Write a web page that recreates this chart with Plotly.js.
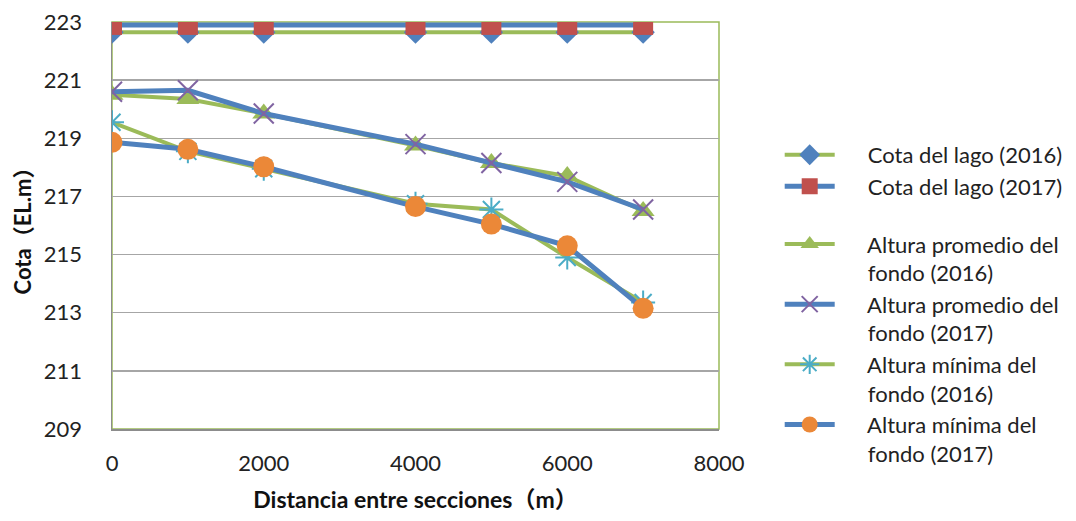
<!DOCTYPE html>
<html>
<head>
<meta charset="utf-8">
<script src="https://cdn.plot.ly/plotly-3.0.1.min.js"></script>
<style>html,body{margin:0;padding:0;background:#fff;}#chart{width:1076px;height:521px;}</style>
</head>
<body>
<div id="chart"></div>
<script>
var distancia = [0, 1000, 2000, 4000, 5000, 6000, 7000];
var cotaLago2016 = [222.65, 222.65, 222.65, 222.65, 222.65, 222.65, 222.65];
var cotaLago2017 = [222.9, 222.9, 222.9, 222.9, 222.9, 222.9, 222.9];
var promedio2016 = [220.5, 220.35, 219.85, 218.75, 218.15, 217.7, 216.5];
var promedio2017 = [220.6, 220.65, 219.85, 218.8, 218.15, 217.5, 216.55];
var minima2016 = [219.55, 218.55, 217.95, 216.75, 216.55, 214.9, 213.35];
var minima2017 = [218.86, 218.62, 218.02, 216.65, 216.05, 215.3, 213.15];
var nombres = [
  "Cota del lago (2016)",
  "Cota del lago (2017)",
  "Altura promedio del<br>fondo (2016)",
  "Altura promedio del<br>fondo (2017)",
  "Altura mínima del<br>fondo (2016)",
  "Altura mínima del<br>fondo (2017)"
];
var yTicks = [209, 211, 213, 215, 217, 219, 221, 223];
var xTicks = [0, 2000, 4000, 6000, 8000];

var GREEN = "#9BBB59", BLUE = "#4F81BD", RED = "#C0504D", PURPLE = "#8064A2", CYAN = "#4BACC6", ORANGE = "#EB8838";
var PAD = "\u00a0\u00a0\u00a0\u00a0\u00a0";

function tr(y, name, lineColor, lineW, marker, group) {
  var padded = PAD + name.split("<br>").join("<br>" + PAD);
  return {x: distancia, y: y, name: padded, type: "scatter", mode: "lines+markers",
    line: {color: lineColor, width: lineW}, marker: marker, legendgroup: group};
}
var data = [
  tr(cotaLago2016, nombres[0], GREEN, 4, {symbol: "diamond", size: 18, color: BLUE}, "a"),
  tr(cotaLago2017, nombres[1], BLUE, 5, {symbol: "square", size: 20, color: RED}, "a"),
  tr(promedio2016, nombres[2], GREEN, 4, {symbol: "triangle-up", size: 20, color: GREEN}, "b"),
  tr(promedio2017, nombres[3], BLUE, 5, {symbol: "x-thin-open", size: 20, color: PURPLE, line: {color: PURPLE, width: 2}}, "b"),
  tr(minima2016, nombres[4], GREEN, 4, {symbol: "asterisk-open", size: 20, color: CYAN, line: {color: CYAN, width: 2}}, "b"),
  tr(minima2017, nombres[5], BLUE, 5, {symbol: "circle", size: 21, color: ORANGE}, "b")
];

var layout = {
  width: 1076, height: 521,
  margin: {l: 112, r: 357, t: 22, b: 92, autoexpand: false},
  paper_bgcolor: "#fff", plot_bgcolor: "#fff",
  font: {family: "Lato, 'Noto Sans CJK JP', sans-serif", color: "#222"},
  showlegend: true,
  legend: {x: 1.1, xanchor: "left", y: 0.725, yanchor: "top", valign: "top",
    font: {size: 22, color: "#222"}, tracegroupgap: 26, traceorder: "grouped",
    itemwidth: 50, bgcolor: "rgba(0,0,0,0)"},
  xaxis: {range: [0, 8000], tickvals: xTicks, ticktext: xTicks.map(String),
    showgrid: false, zeroline: false, showline: true, linecolor: "#8C8C8C", linewidth: 1.5,
    ticks: "outside", ticklen: 14, tickcolor: "rgba(0,0,0,0)",
    tickfont: {size: 22, color: "#222"},
    title: {text: "<b>Distancia entre secciones（m）</b>", font: {size: 23, color: "#111"}, standoff: 17}},
  yaxis: {range: [209, 223], tickvals: yTicks, ticktext: yTicks.map(String),
    showgrid: true, gridcolor: "#A6A6A6", gridwidth: 1.5, zeroline: false,
    showline: true, linecolor: "#8C8C8C", linewidth: 1.5,
    ticks: "outside", ticklen: 24, tickcolor: "rgba(0,0,0,0)",
    tickfont: {size: 22, color: "#222"},
    title: {text: "<b>Cota（EL.m）</b>", font: {size: 22, color: "#111"}, standoff: 6}},
  shapes: [{type: "rect", xref: "paper", yref: "paper", x0: 0, x1: 1, y0: 0, y1: 1,
    line: {color: GREEN, width: 1.5}, layer: "below"}]
};
Plotly.newPlot("chart", data, layout, {displayModeBar: false, staticPlot: true});
</script>
</body>
</html>
